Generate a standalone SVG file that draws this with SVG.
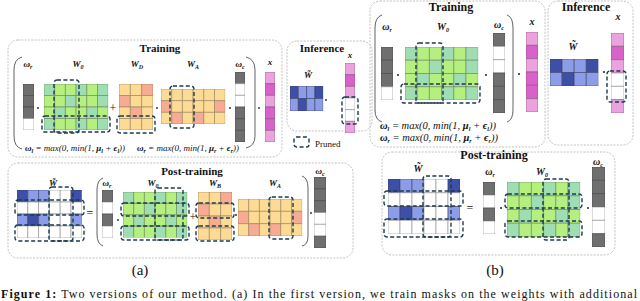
<svg xmlns="http://www.w3.org/2000/svg" xmlns:xlink="http://www.w3.org/1999/xlink" width="640" height="301" viewBox="0 0 640 301">
<style>
.c{vector-effect:non-scaling-stroke;stroke-width:0.6}
.g{fill:#6f6f6f;stroke:#454545}
.w{fill:#ffffff;stroke:#8a8a8a}
.gr{fill:#b5ef7f;stroke:#6a8458}
.aq{fill:#9fdeb3;stroke:#6a8458}
.or{fill:#fedb95;stroke:#94805c}
.sa{fill:#f7ab93;stroke:#94805c}
.bd{fill:#3d4fa6;stroke:#3a3f66}
.bl{fill:#8d9ce8;stroke:#3a3f66}
.pl{fill:#eaa3df;stroke:#7d5a7a}
.pm{fill:#d862c9;stroke:#7d5a7a}
.dash{fill:none;stroke:#1d3a4c;stroke-width:1.4;stroke-dasharray:4 2.4}
.box{fill:none;stroke:#c2c2c2;stroke-width:1;stroke-dasharray:2 1.3}
.par{fill:none;stroke:#3a3a3a;stroke-width:0.8}
.dot{fill:#222}
.t{font-family:"Liberation Serif",serif;font-weight:bold;font-size:11px;text-anchor:middle;fill:#111}
.m{font-family:"Liberation Serif",serif;font-weight:bold;font-style:italic;font-size:9px;text-anchor:middle;fill:#111}
.e{font-family:"Liberation Serif",serif;font-style:italic;font-size:9px;fill:#111}
.b{font-weight:bold}
.s{font-size:6px}
.op{font-family:"Liberation Serif",serif;font-size:12px;text-anchor:middle;fill:#222}
.lg{font-family:"Liberation Serif",serif;font-size:9px;fill:#111}
.cap{font-family:"Liberation Serif",serif;font-size:12px;fill:#111}
.pl2{font-family:"Liberation Serif",serif;font-size:15px;text-anchor:middle;fill:#111}
</style>
<defs>
<symbol id="W0" viewBox="0 0 6 4" preserveAspectRatio="none">
<rect class="c aq" x="0" y="0" width="1" height="1"/><rect class="c gr" x="1" y="0" width="1" height="1"/><rect class="c gr" x="2" y="0" width="1" height="1"/><rect class="c aq" x="3" y="0" width="1" height="1"/><rect class="c gr" x="4" y="0" width="1" height="1"/><rect class="c aq" x="5" y="0" width="1" height="1"/>
<rect class="c gr" x="0" y="1" width="1" height="1"/><rect class="c gr" x="1" y="1" width="1" height="1"/><rect class="c aq" x="2" y="1" width="1" height="1"/><rect class="c gr" x="3" y="1" width="1" height="1"/><rect class="c gr" x="4" y="1" width="1" height="1"/><rect class="c aq" x="5" y="1" width="1" height="1"/>
<rect class="c gr" x="0" y="2" width="1" height="1"/><rect class="c aq" x="1" y="2" width="1" height="1"/><rect class="c gr" x="2" y="2" width="1" height="1"/><rect class="c gr" x="3" y="2" width="1" height="1"/><rect class="c aq" x="4" y="2" width="1" height="1"/><rect class="c gr" x="5" y="2" width="1" height="1"/>
<rect class="c aq" x="0" y="3" width="1" height="1"/><rect class="c gr" x="1" y="3" width="1" height="1"/><rect class="c gr" x="2" y="3" width="1" height="1"/><rect class="c aq" x="3" y="3" width="1" height="1"/><rect class="c gr" x="4" y="3" width="1" height="1"/><rect class="c aq" x="5" y="3" width="1" height="1"/>
</symbol>
<symbol id="Wt" viewBox="0 0 6 4" preserveAspectRatio="none">
<rect class="c bd" x="0" y="0" width="1" height="1"/><rect class="c bl" x="1" y="0" width="1" height="1"/><rect class="c bl" x="2" y="0" width="1" height="1"/><rect class="c w" x="3" y="0" width="1" height="1"/><rect class="c w" x="4" y="0" width="1" height="1"/><rect class="c bd" x="5" y="0" width="1" height="1"/>
<rect class="c w" x="0" y="1" width="1" height="1"/><rect class="c w" x="1" y="1" width="1" height="1"/><rect class="c w" x="2" y="1" width="1" height="1"/><rect class="c w" x="3" y="1" width="1" height="1"/><rect class="c w" x="4" y="1" width="1" height="1"/><rect class="c w" x="5" y="1" width="1" height="1"/>
<rect class="c bl" x="0" y="2" width="1" height="1"/><rect class="c bd" x="1" y="2" width="1" height="1"/><rect class="c bl" x="2" y="2" width="1" height="1"/><rect class="c w" x="3" y="2" width="1" height="1"/><rect class="c w" x="4" y="2" width="1" height="1"/><rect class="c bl" x="5" y="2" width="1" height="1"/>
<rect class="c w" x="0" y="3" width="1" height="1"/><rect class="c w" x="1" y="3" width="1" height="1"/><rect class="c w" x="2" y="3" width="1" height="1"/><rect class="c w" x="3" y="3" width="1" height="1"/><rect class="c w" x="4" y="3" width="1" height="1"/><rect class="c w" x="5" y="3" width="1" height="1"/>
</symbol>
<symbol id="Wi" viewBox="0 0 4 2" preserveAspectRatio="none">
<rect class="c bd" x="0" y="0" width="1" height="1"/><rect class="c bl" x="1" y="0" width="1" height="1"/><rect class="c bl" x="2" y="0" width="1" height="1"/><rect class="c bd" x="3" y="0" width="1" height="1"/>
<rect class="c bl" x="0" y="1" width="1" height="1"/><rect class="c bd" x="1" y="1" width="1" height="1"/><rect class="c bl" x="2" y="1" width="1" height="1"/><rect class="c bl" x="3" y="1" width="1" height="1"/>
</symbol>
<symbol id="WD" viewBox="0 0 3 4" preserveAspectRatio="none">
<rect class="c or" x="0" y="0" width="1" height="1"/><rect class="c or" x="1" y="0" width="1" height="1"/><rect class="c sa" x="2" y="0" width="1" height="1"/>
<rect class="c sa" x="0" y="1" width="1" height="1"/><rect class="c or" x="1" y="1" width="1" height="1"/><rect class="c or" x="2" y="1" width="1" height="1"/>
<rect class="c or" x="0" y="2" width="1" height="1"/><rect class="c sa" x="1" y="2" width="1" height="1"/><rect class="c or" x="2" y="2" width="1" height="1"/>
<rect class="c or" x="0" y="3" width="1" height="1"/><rect class="c or" x="1" y="3" width="1" height="1"/><rect class="c or" x="2" y="3" width="1" height="1"/>
</symbol>
<symbol id="WA" viewBox="0 0 6 3" preserveAspectRatio="none">
<rect class="c or" x="0" y="0" width="1" height="1"/><rect class="c or" x="1" y="0" width="1" height="1"/><rect class="c or" x="2" y="0" width="1" height="1"/><rect class="c or" x="3" y="0" width="1" height="1"/><rect class="c or" x="4" y="0" width="1" height="1"/><rect class="c or" x="5" y="0" width="1" height="1"/>
<rect class="c sa" x="0" y="1" width="1" height="1"/><rect class="c or" x="1" y="1" width="1" height="1"/><rect class="c or" x="2" y="1" width="1" height="1"/><rect class="c or" x="3" y="1" width="1" height="1"/><rect class="c or" x="4" y="1" width="1" height="1"/><rect class="c sa" x="5" y="1" width="1" height="1"/>
<rect class="c or" x="0" y="2" width="1" height="1"/><rect class="c sa" x="1" y="2" width="1" height="1"/><rect class="c or" x="2" y="2" width="1" height="1"/><rect class="c sa" x="3" y="2" width="1" height="1"/><rect class="c or" x="4" y="2" width="1" height="1"/><rect class="c or" x="5" y="2" width="1" height="1"/>
</symbol>
<symbol id="vr" viewBox="0 0 1 4" preserveAspectRatio="none">
<rect class="c g" x="0" y="0" width="1" height="1"/><rect class="c g" x="0" y="1" width="1" height="1"/><rect class="c g" x="0" y="2" width="1" height="1"/><rect class="c w" x="0" y="3" width="1" height="1"/>
</symbol>
<symbol id="vrp" viewBox="0 0 1 4" preserveAspectRatio="none">
<rect class="c g" x="0" y="0" width="1" height="1"/><rect class="c w" x="0" y="1" width="1" height="1"/><rect class="c g" x="0" y="2" width="1" height="1"/><rect class="c w" x="0" y="3" width="1" height="1"/>
</symbol>
<symbol id="vc" viewBox="0 0 1 6" preserveAspectRatio="none">
<rect class="c g" x="0" y="0" width="1" height="1"/><rect class="c w" x="0" y="1" width="1" height="1"/><rect class="c w" x="0" y="2" width="1" height="1"/><rect class="c g" x="0" y="3" width="1" height="1"/><rect class="c g" x="0" y="4" width="1" height="1"/><rect class="c g" x="0" y="5" width="1" height="1"/>
</symbol>
<symbol id="vcp" viewBox="0 0 1 6" preserveAspectRatio="none">
<rect class="c g" x="0" y="0" width="1" height="1"/><rect class="c g" x="0" y="1" width="1" height="1"/><rect class="c g" x="0" y="2" width="1" height="1"/><rect class="c w" x="0" y="3" width="1" height="1"/><rect class="c w" x="0" y="4" width="1" height="1"/><rect class="c g" x="0" y="5" width="1" height="1"/>
</symbol>
<symbol id="vx" viewBox="0 0 1 6" preserveAspectRatio="none">
<rect class="c pl" x="0" y="0" width="1" height="1"/><rect class="c pm" x="0" y="1" width="1" height="1"/><rect class="c pl" x="0" y="2" width="1" height="1"/><rect class="c pm" x="0" y="3" width="1" height="1"/><rect class="c pm" x="0" y="4" width="1" height="1"/><rect class="c pl" x="0" y="5" width="1" height="1"/>
</symbol>
<symbol id="vxi" viewBox="0 0 1 6" preserveAspectRatio="none">
<rect class="c pl" x="0" y="0" width="1" height="1"/><rect class="c pm" x="0" y="1" width="1" height="1"/><rect class="c pl" x="0" y="2" width="1" height="1"/><rect class="c w" x="0" y="3" width="1" height="1"/><rect class="c w" x="0" y="4" width="1" height="1"/><rect class="c pl" x="0" y="5" width="1" height="1"/>
</symbol>
</defs>
<rect width="640" height="301" fill="#ffffff"/>

<!-- ===== Panel (a) ===== -->
<g id="a-training">
<rect class="box" x="8" y="40" width="274" height="117" rx="10"/>
<text class="t" x="160" y="52">Training</text>
<g id="a-train-wr"><text class="m" x="28" y="67">ω<tspan class="s" dy="2">r</tspan></text><use href="#vr" x="23" y="84" width="11" height="46"/></g>
<g id="a-train-w0"><text class="m" x="78" y="67">W<tspan class="s" dy="2">0</tspan></text><use href="#W0" x="44" y="84" width="64.2" height="46"/>
<rect class="dash" x="54" y="80" width="25" height="53" rx="3"/><rect class="dash" x="42" y="116" width="68" height="16" rx="3"/></g>
<g id="a-train-wd"><text class="m" x="137" y="67">W<tspan class="s" dy="2">D</tspan></text><use href="#WD" x="119" y="84" width="34" height="46"/>
<rect class="dash" x="117" y="116" width="38" height="17" rx="3"/></g>
<g id="a-train-wa"><text class="m" x="193" y="67">W<tspan class="s" dy="2">A</tspan></text><use href="#WA" x="161" y="89" width="64.2" height="35"/>
<rect class="dash" x="170" y="86" width="24" height="42" rx="3"/></g>
<g id="a-train-wc"><text class="m" x="240" y="67">ω<tspan class="s" dy="2">c</tspan></text><use href="#vc" x="235" y="72" width="10" height="70"/></g>
<g id="a-train-x"><text class="m" x="270" y="65">x</text><use href="#vx" x="265" y="72" width="10" height="70"/></g>
<text class="e" x="25" y="151"><tspan class="b">ω</tspan><tspan class="s b" dy="2">l</tspan><tspan dy="-2"> = max(0, min(1, </tspan><tspan class="b">μ</tspan><tspan class="s b" dy="2">l</tspan><tspan dy="-2"> + </tspan><tspan class="b">ϵ</tspan><tspan class="s b" dy="2">l</tspan><tspan dy="-2">))</tspan></text>
<text class="e" x="137" y="151"><tspan class="b">ω</tspan><tspan class="s b" dy="2">r</tspan><tspan dy="-2"> = max(0, min(1, </tspan><tspan class="b">μ</tspan><tspan class="s b" dy="2">r</tspan><tspan dy="-2"> + </tspan><tspan class="b">ϵ</tspan><tspan class="s b" dy="2">r</tspan><tspan dy="-2">))</tspan></text>
</g>

<g id="a-inference">
<rect class="box" x="287" y="41" width="85" height="90" rx="10"/>
<text class="t" x="322" y="52">Inference</text>
<g id="a-inf-w"><text class="m" x="308" y="78">W̃</text><use href="#Wi" x="290" y="86" width="33.2" height="25"/></g>
<g id="a-inf-x"><text class="m" x="350" y="58">x</text><use href="#vxi" x="345" y="63" width="10" height="70"/>
<rect class="dash" x="342" y="97" width="16" height="27" rx="3"/></g>
</g>

<g id="legend">
<rect class="dash" x="294" y="137" width="15" height="10" rx="2.5"/>
<text class="lg" x="315" y="147">Pruned</text>
</g>

<g id="a-post">
<rect class="box" x="8" y="163" width="345" height="95" rx="10"/>
<text class="t" x="192" y="175">Post-training</text>
<g id="a-post-wt"><text class="m" x="53" y="186">W̃</text><use href="#Wt" x="17" y="190" width="64.8" height="48"/>
<rect class="dash" x="49" y="187" width="24" height="54" rx="3"/><rect class="dash" x="15" y="200" width="69" height="15" rx="3"/><rect class="dash" x="15" y="225" width="69" height="16" rx="3"/></g>
<g id="a-post-wr"><text class="m" x="107" y="186">ω<tspan class="s" dy="2">r</tspan></text><use href="#vrp" x="102" y="190" width="11" height="48"/></g>
<g id="a-post-w0"><text class="m" x="153" y="186">W<tspan class="s" dy="2">0</tspan></text><use href="#W0" x="123" y="192" width="64.2" height="45.6"/>
<rect class="dash" x="155" y="188" width="28" height="52" rx="3"/><rect class="dash" x="121" y="203" width="68" height="13" rx="3"/><rect class="dash" x="121" y="226" width="68" height="14" rx="3"/></g>
<g id="a-post-wb"><text class="m" x="215" y="186">W<tspan class="s" dy="2">B</tspan></text><use href="#WD" x="198" y="192" width="34" height="48"/>
<rect class="dash" x="196" y="203" width="38" height="15" rx="3"/><rect class="dash" x="196" y="226" width="38" height="15" rx="3"/></g>
<g id="a-post-wa"><text class="m" x="275" y="186">W<tspan class="s" dy="2">A</tspan></text><use href="#WA" x="238" y="199" width="64.2" height="37"/>
<rect class="dash" x="269" y="197" width="24" height="42" rx="3"/></g>
<g id="a-post-wc"><text class="m" x="320" y="174">ω<tspan class="s" dy="2">c</tspan></text><use href="#vcp" x="314" y="177" width="12" height="71"/></g>
</g>

<!-- ===== Panel (b) ===== -->
<g id="b-training">
<rect class="box" x="370" y="1" width="175" height="146" rx="10"/>
<text class="t" x="451" y="11" style="font-size:12px">Training</text>
<g id="b-train-wr"><text class="m" x="387" y="30" style="font-size:10px">ω<tspan class="s" dy="2">r</tspan></text><use href="#vr" x="381" y="47" width="12" height="53"/></g>
<g id="b-train-w0"><text class="m" x="443" y="30" style="font-size:10px">W<tspan class="s" dy="2">0</tspan></text><use href="#W0" x="405" y="47" width="73.2" height="53"/>
<rect class="dash" x="416" y="43" width="27" height="60" rx="3"/><rect class="dash" x="401" y="84" width="79" height="19" rx="3"/></g>
<g id="b-train-wc"><text class="m" x="499" y="28" style="font-size:10px">ω<tspan class="s" dy="2">c</tspan></text><use href="#vc" x="493" y="33" width="12" height="80"/></g>
<g id="b-train-x"><text class="m" x="532" y="25" style="font-size:10px">x</text><use href="#vx" x="526" y="32" width="12" height="80"/></g>
<text class="e" x="380" y="129" style="font-size:10.5px"><tspan class="b">ω</tspan><tspan class="s b" dy="2">l</tspan><tspan dy="-2"> = max(0, min(1, </tspan><tspan class="b">μ</tspan><tspan class="s b" dy="2">l</tspan><tspan dy="-2"> + </tspan><tspan class="b">ϵ</tspan><tspan class="s b" dy="2">l</tspan><tspan dy="-2">))</tspan></text>
<text class="e" x="380" y="141" style="font-size:10.5px"><tspan class="b">ω</tspan><tspan class="s b" dy="2">r</tspan><tspan dy="-2"> = max(0, min(1, </tspan><tspan class="b">μ</tspan><tspan class="s b" dy="2">r</tspan><tspan dy="-2"> + </tspan><tspan class="b">ϵ</tspan><tspan class="s b" dy="2">r</tspan><tspan dy="-2">))</tspan></text>
</g>

<g id="b-inference">
<rect class="box" x="548" y="1" width="85" height="144" rx="10"/>
<text class="t" x="586" y="11" style="font-size:12px">Inference</text>
<g id="b-inf-w"><text class="m" x="573" y="50" style="font-size:10px">W̃</text><use href="#Wi" x="550" y="59" width="48.4" height="27"/></g>
<g id="b-inf-x"><text class="m" x="618" y="20" style="font-size:10px">x</text><use href="#vxi" x="611" y="33" width="13" height="80"/>
<rect class="dash" x="607" y="71" width="19" height="31" rx="3"/></g>
</g>

<g id="b-post">
<rect class="box" x="382" y="152" width="233" height="103" rx="10"/>
<text class="t" x="494" y="159" style="font-size:12px">Post-training</text>
<g id="b-post-wt"><text class="m" x="418" y="172" style="font-size:10px">W̃</text><use href="#Wt" x="388" y="179" width="72" height="55"/>
<rect class="dash" x="423" y="176" width="28" height="61" rx="3"/><rect class="dash" x="384" y="191" width="79" height="15" rx="3"/><rect class="dash" x="384" y="219" width="79" height="18" rx="3"/></g>
<g id="b-post-wr"><text class="m" x="490" y="175" style="font-size:10px">ω<tspan class="s" dy="2">r</tspan></text><use href="#vrp" x="483" y="182" width="12" height="52"/></g>
<g id="b-post-w0"><text class="m" x="542" y="175" style="font-size:10px">W<tspan class="s" dy="2">0</tspan></text><use href="#W0" x="507" y="182" width="73.2" height="55"/>
<rect class="dash" x="543" y="179" width="26" height="61" rx="3"/><rect class="dash" x="505" y="194" width="77" height="14" rx="3"/><rect class="dash" x="505" y="221" width="77" height="16" rx="3"/></g>
<g id="b-post-wc"><text class="m" x="598" y="165" style="font-size:10px">ω<tspan class="s" dy="2">c</tspan></text><use href="#vcp" x="592" y="167" width="13" height="80"/></g>
</g>

<g id="connectors">
<path class="par" d="M22 57 Q14 59 14 70 L14 136 Q14 147 22 149"/>
<path class="par" d="M246 57 Q255 59 255 70 L255 136 Q255 146 246 148"/>
<path class="par" d="M103 178 Q97 180 97 190 L97 234 Q97 244 103 246"/>
<path class="par" d="M302 176 Q308 178 308 188 L308 236 Q308 245 302 246"/>
<path class="par" d="M382 15 Q375 17 375 28 L375 110 Q375 120 382 122"/>
<path class="par" d="M507 15 Q513 17 513 28 L513 110 Q513 120 507 122"/>
<circle class="dot" cx="38" cy="108" r="0.9"/>
<circle class="dot" cx="157" cy="108" r="0.9"/>
<circle class="dot" cx="230" cy="108" r="0.9"/>
<circle class="dot" cx="259" cy="108" r="0.9"/>
<circle class="dot" cx="326" cy="100" r="0.9"/>
<circle class="dot" cx="118" cy="220" r="0.9"/>
<circle class="dot" cx="236" cy="215" r="0.9"/>
<circle class="dot" cx="311" cy="213" r="0.9"/>
<circle class="dot" cx="398" cy="75" r="1"/>
<circle class="dot" cx="486" cy="75" r="1"/>
<circle class="dot" cx="519" cy="74" r="1"/>
<circle class="dot" cx="604" cy="72" r="1"/>
<circle class="dot" cx="501" cy="208" r="1"/>
<circle class="dot" cx="588" cy="208" r="1"/>
<text class="op" x="113" y="112">+</text>
<text class="op" x="193" y="221">+</text>
<text class="op" x="90" y="217">=</text>
<text class="op" x="470" y="212">=</text>
</g>

<text class="pl2" x="140" y="275">(a)</text>
<text class="pl2" x="495" y="275">(b)</text>
<text class="cap" x="1" y="298" textLength="636" lengthAdjust="spacing"><tspan font-weight="bold">Figure 1:</tspan> Two versions of our method. (a) In the first version, we train masks on the weights with additional</text>
</svg>
